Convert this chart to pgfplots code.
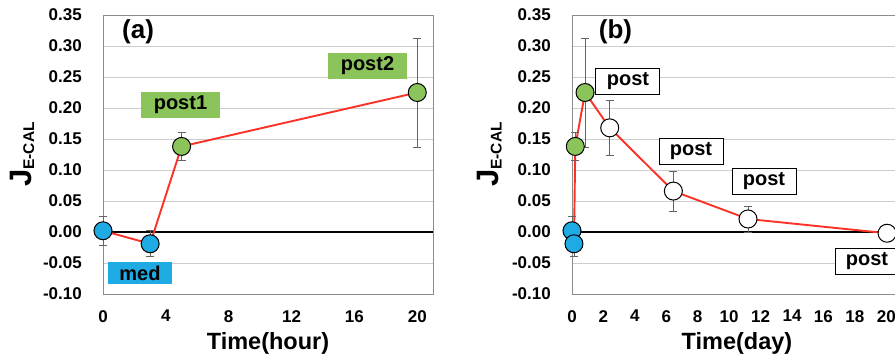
\documentclass[border=0pt]{standalone}
\usepackage{fontspec}
\setmainfont{Liberation Sans}
\usepackage{pgfplots}
\pgfplotsset{compat=1.18}
\definecolor{mblue}{RGB}{30,170,226}
\definecolor{mgreen}{RGB}{140,196,92}
\definecolor{mred}{RGB}{250,50,40}
\definecolor{axgray}{RGB}{140,140,140}
\definecolor{grgray}{RGB}{205,205,205}
\definecolor{ebgray}{RGB}{100,100,100}
\pgfplotsset{
  myaxis/.style={
    scale only axis, width=330pt, height=279pt,
    xmin=0, xmax=21, ymin=-0.1, ymax=0.35,
    ytick={-0.1,-0.05,0,0.05,0.1,0.15,0.2,0.25,0.3,0.35},
    ymajorgrids, major grid style={grgray, line width=0.9pt},
    axis line style={axgray, line width=0.9pt},
    major tick length=0pt,
    clip=false,
    /pgf/number format/assume math mode=true,
    tick label style={font=\bfseries\fontsize{17}{17}\selectfont, inner sep=0pt},
    yticklabel style={anchor=east, xshift=-21pt, /pgf/number format/fixed, /pgf/number format/precision=2, /pgf/number format/fixed zerofill},
    xticklabel style={anchor=north, yshift=-16pt},
  },
  ebar/.style={error bars/.cd, y dir=both, y explicit,
    error bar style={ebgray, line width=0.7pt},
    error mark options={rotate=90, mark size=4pt, ebgray, line width=0.7pt}},
  bluem/.style={only marks, mark=*, mark size=9pt, mark options={fill=mblue, draw=black, line width=1pt}},
  greenm/.style={only marks, mark=*, mark size=9pt, mark options={fill=mgreen, draw=black, line width=1pt}},
  whitem/.style={only marks, mark=*, mark size=9pt, mark options={fill=white, draw=black, line width=1pt}},
}
\newcommand{\ylab}{{\bfseries\fontsize{31}{31}\selectfont J}\raisebox{-3pt}{\bfseries\fontsize{15.5}{15.5}\selectfont E-CAL}}
\begin{document}
\begin{tikzpicture}
\path[use as bounding box] (0,0) rectangle (895pt,359pt);
\clip (0,0) rectangle (895pt,359pt);
% ---------------- panel (a)
\begin{axis}[myaxis, at={(103pt,65pt)}, anchor=south west, xtick={0,4,8,12,16,20}]
\addplot[black, line width=1.8pt] coordinates {(0,0) (21,0)};
\addplot[mred, line width=1.9pt, no marks] coordinates {(0,0.002) (3,-0.019) (5,0.138) (20,0.225)};
\addplot[bluem, ebar] coordinates {(0,0.002) +- (0,0.024) (3,-0.019) +- (0,0.021)};
\addplot[greenm, ebar] coordinates {(5,0.138) +- (0,0.022) (20,0.225) +- (0,0.088)};
\node[fill=mblue, minimum width=64pt, minimum height=22pt, inner sep=0pt, font=\bfseries\fontsize{20}{20}\selectfont] at (axis cs:2.35,-0.066) {med};
\node[fill=mgreen, minimum width=79pt, minimum height=26pt, inner sep=0pt, font=\bfseries\fontsize{20}{20}\selectfont] at (axis cs:4.93,0.205) {post1};
\node[fill=mgreen, minimum width=79pt, minimum height=26pt, inner sep=0pt, font=\bfseries\fontsize{20}{20}\selectfont] at (axis cs:16.83,0.268) {post2};
\node[font=\bfseries\fontsize{26}{26}\selectfont] at (axis cs:2.23,0.323) {(a)};
\node[rotate=90, anchor=center] at (axis description cs:-0.245,0.5) {\ylab};
\node[anchor=center, font=\bfseries\fontsize{23.5}{23.5}\selectfont] at (axis description cs:0.5,-0.178) {Time(hour)};
\end{axis}
% ---------------- panel (b)
\begin{axis}[myaxis, at={(572pt,65pt)}, anchor=south west, xtick={0,2,4,6,8,10,12,14,16,18,20}]
\addplot[black, line width=1.8pt] coordinates {(0,0) (21,0)};
\addplot[mred, line width=1.9pt, no marks] coordinates {(0,0.002) (0.125,-0.019) (0.21,0.138) (0.83,0.225) (2.4,0.168) (6.45,0.066) (11.2,0.021) (20.05,-0.002)};
\addplot[bluem, ebar] coordinates {(0,0.002) +- (0,0.024) (0.125,-0.019) +- (0,0.021)};
\addplot[greenm, ebar] coordinates {(0.21,0.138) +- (0,0.022) (0.83,0.225) +- (0,0.088)};
\addplot[whitem, ebar] coordinates {(2.4,0.168) +- (0,0.045) (6.45,0.066) +- (0,0.032) (11.2,0.021) +- (0,0.021) (20.05,-0.002) +- (0,0.003)};
\node[draw=black, fill=white, line width=0.9pt, minimum width=64pt, minimum height=26pt, inner sep=0pt, font=\bfseries\fontsize{20}{20}\selectfont] at (axis cs:3.56,0.2435) {post};
\node[draw=black, fill=white, line width=0.9pt, minimum width=64pt, minimum height=26pt, inner sep=0pt, font=\bfseries\fontsize{20}{20}\selectfont] at (axis cs:7.57,0.1306) {post};
\node[draw=black, fill=white, line width=0.9pt, minimum width=64pt, minimum height=26pt, inner sep=0pt, font=\bfseries\fontsize{20}{20}\selectfont] at (axis cs:12.22,0.0815) {post};
\node[draw=black, fill=white, line width=0.9pt, minimum width=64pt, minimum height=26pt, inner sep=0pt, font=\bfseries\fontsize{20}{20}\selectfont] at (axis cs:18.77,-0.0468) {post};
\node[font=\bfseries\fontsize{26}{26}\selectfont] at (axis cs:2.77,0.323) {(b)};
\node[rotate=90, anchor=center] at (axis description cs:-0.25,0.5) {\ylab};
\node[anchor=center, font=\bfseries\fontsize{23.5}{23.5}\selectfont] at (axis description cs:0.5,-0.178) {Time(day)};
\end{axis}
\end{tikzpicture}
\end{document}
